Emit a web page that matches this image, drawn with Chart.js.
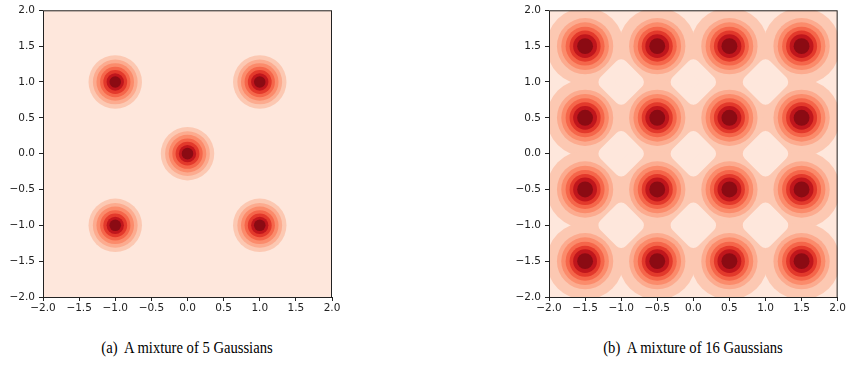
<!DOCTYPE html>
<html>
<head>
<meta charset="utf-8">
<script src="https://cdn.jsdelivr.net/npm/chart.js@4.4.1/dist/chart.umd.min.js"></script>
<style>
  html, body { margin: 0; padding: 0; background: #fff; }
  body { width: 847px; height: 365px; position: relative; overflow: hidden; }
  .panel { position: absolute; top: 0; }
  #panelA { left: 0; }
  #panelB { left: 490px; }
  .caption {
    position: absolute; top: 339px; width: 300px; text-align: center; white-space: nowrap;
    font-family: "Liberation Serif", "DejaVu Serif", "Times New Roman", serif;
    font-size: 17px; line-height: 17px; color: #000;
    transform: scaleX(0.86); transform-origin: 50% 50%;
  }
</style>
</head>
<body>
<div class="panel" id="panelA"><canvas id="chartA" width="360" height="320"></canvas></div>
<div class="panel" id="panelB"><canvas id="chartB" width="357" height="320"></canvas></div>
<div class="caption" style="left:37px">(a)&nbsp; A mixture of 5 Gaussians</div>
<div class="caption" style="left:543px">(b)&nbsp; A mixture of 16 Gaussians</div>
<script>
// axis ticks, same on both panels
const tickValues = [-2, -1.5, -1, -0.5, 0, 0.5, 1, 1.5, 2];

// contour band colours, outermost band first (Reds)
const bandColors = ["#fcc8b2", "#fcab8f", "#fb8b6b", "#f5664a", "#e3392b", "#c0161c", "#8b0b13"];
const floorColor = "#fee7dc";

// (a) five gaussians: centres and ring radii (data units), outer -> inner
const centersA = [
    { x: -1, y: 1 }, { x: 1, y: 1 },
    { x: 0, y: 0 },
    { x: -1, y: -1 }, { x: 1, y: -1 },
];
const radiiA = [0.37, 0.31, 0.26, 0.21, 0.165, 0.12, 0.08];

// (b) sixteen gaussians on a grid
const centersB = [
    { x: -1.5, y: 1.5 }, { x: -0.5, y: 1.5 }, { x: 0.5, y: 1.5 }, { x: 1.5, y: 1.5 },
    { x: -1.5, y: 0.5 }, { x: -0.5, y: 0.5 }, { x: 0.5, y: 0.5 }, { x: 1.5, y: 0.5 },
    { x: -1.5, y: -0.5 }, { x: -0.5, y: -0.5 }, { x: 0.5, y: -0.5 }, { x: 1.5, y: -0.5 },
    { x: -1.5, y: -1.5 }, { x: -0.5, y: -1.5 }, { x: 0.5, y: -1.5 }, { x: 1.5, y: -1.5 },
];
const radiiB = [0.535, 0.39, 0.33, 0.27, 0.215, 0.165, 0.11];

// low-density gaps between four neighbours in the outer band (rounded diamonds)
const holesB = [
    { x: -1, y: 1 }, { x: 0, y: 1 }, { x: 1, y: 1 },
    { x: -1, y: 0 }, { x: 0, y: 0 }, { x: 1, y: 0 },
    { x: -1, y: -1 }, { x: 0, y: -1 }, { x: 1, y: -1 },
];
const holeRadiusB = 0.222;
const holeRoundingB = 0.093;

function pxRadius(chart, r) {
    const xs = chart.scales.x;
    return Math.abs(xs.getPixelForValue(r) - xs.getPixelForValue(0));
}

function layer(data, r, color) {
    return {
        data: data,
        pointStyle: "circle",
        backgroundColor: color,
        pointBorderWidth: 0,
        pointRadius: (ctx) => pxRadius(ctx.chart, r),
        pointHoverRadius: (ctx) => pxRadius(ctx.chart, r),
        clip: 0,
    };
}

function holeLayer(data, r, round) {
    return {
        data: data,
        roundJoin: true,
        pointStyle: "rectRot",
        backgroundColor: floorColor,
        pointBorderColor: floorColor,
        pointBorderWidth: (ctx) => 2 * pxRadius(ctx.chart, round),
        pointRadius: (ctx) => pxRadius(ctx.chart, r),
        pointHoverRadius: (ctx) => pxRadius(ctx.chart, r),
        clip: 0,
    };
}

function ringDatasets(centers, radii, holes) {
    const sets = [];
    // first dataset is drawn on top, so go inner -> outer
    for (let i = radii.length - 1; i >= 0; i--) {
        if (i === 0 && holes) sets.push(holeLayer(holes, holeRadiusB, holeRoundingB));
        sets.push(layer(centers, radii[i], bandColors[i]));
    }
    return sets;
}

const frame = {
    id: "frame",
    beforeDatasetsDraw(chart) {
        const a = chart.chartArea;
        const c = chart.ctx;
        c.save();
        c.fillStyle = floorColor;
        c.fillRect(a.left, a.top, a.right - a.left, a.bottom - a.top);
        c.restore();
    },
    beforeDatasetDraw(chart, args) {
        chart.ctx.lineJoin = chart.data.datasets[args.index].roundJoin ? "round" : "miter";
    },
    afterDatasetsDraw(chart) {
        const a = chart.chartArea;
        const c = chart.ctx;
        c.save();
        c.lineJoin = "miter";
        c.strokeStyle = "#222";
        c.lineWidth = 1;
        c.strokeRect(a.left + 0.5, a.top + 0.5, a.right - a.left - 1, a.bottom - a.top);
        c.restore();
    },
};

const tickFont = { family: "DejaVu Sans", size: 10.5 };
const fmt = (v) => v.toFixed(1).replace("-", "\u2212");

function axis(fitSize, horizontal) {
    return {
        type: "linear",
        min: -2,
        max: 2,
        afterBuildTicks: (s) => { s.ticks = tickValues.map((v) => ({ value: v })); },
        afterFit: (s) => { if (horizontal) s.height = fitSize; else s.width = fitSize; },
        border: { display: false },
        grid: { drawOnChartArea: false, drawTicks: true, tickLength: 4, color: "#222", lineWidth: 1 },
        ticks: {
            font: tickFont,
            color: "#222",
            padding: horizontal ? 1 : 4,
            autoSkip: false,
            maxRotation: 0,
            callback: (v) => fmt(v),
        },
    };
}

function makeChart(id, datasets, yWidth, padRight) {
    new Chart(document.getElementById(id), {
        type: "scatter",
        data: { datasets: datasets },
        plugins: [frame],
        options: {
            responsive: false,
            devicePixelRatio: 1,
            animation: false,
            events: [],
            layout: { padding: { left: 0, top: 9, right: padRight, bottom: 0 } },
            scales: {
                x: axis(23, true),
                y: axis(yWidth, false),
            },
            plugins: {
                legend: { display: false },
                tooltip: { enabled: false },
            },
        },
    });
}

makeChart("chartA", ringDatasets(centersA, radiiA), 43, 28);
makeChart("chartB", ringDatasets(centersB, radiiB, holesB), 59, 9);
</script>
</body>
</html>
